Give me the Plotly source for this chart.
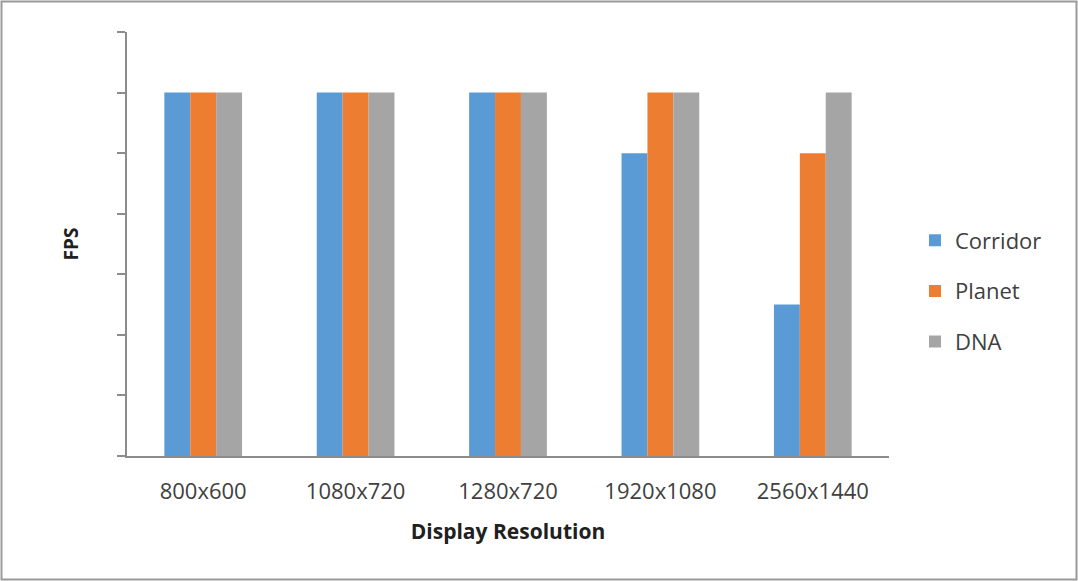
import plotly.graph_objects as go

resolutions = ["800x600", "1080x720", "1280x720", "1920x1080", "2560x1440"]
corridor = [60, 60, 60, 50, 25]
planet = [60, 60, 60, 60, 50]
dna = [60, 60, 60, 60, 60]

series = [
    ("Corridor", corridor, "#5B9BD5"),
    ("Planet", planet, "#ED7D31"),
    ("DNA", dna, "#A5A5A5"),
]

W, H = 1078, 581
ML, MR, MT, MB = 127, 189, 32, 125

fig = go.Figure()
for i, (name, vals, color) in enumerate(series):
    fig.add_trace(go.Bar(
        x=resolutions, y=vals, name=name,
        marker=dict(color=color, line=dict(width=0)),
        legendgroup=f"g{i}",
    ))

pw, ph = W - ML - MR, H - MT - MB
fig.add_shape(
    type="rect", xref="paper", yref="paper",
    x0=-(ML - 1.5) / pw, x1=1 + (MR - 1.5) / pw,
    y0=-(MB - 1.5) / ph, y1=1 + (MT - 1.5) / ph,
    line=dict(color="#9a9a9a", width=2), layer="below",
)

font = "Open Sans, DejaVu Sans, sans-serif"
fig.update_layout(
    width=W, height=H,
    margin=dict(l=ML, r=MR, t=MT, b=MB),
    paper_bgcolor="white", plot_bgcolor="white",
    barmode="group", bargap=0.49, bargroupgap=0,
    font=dict(family=font, size=21, color="#404040"),
    showlegend=True,
    legend=dict(
        x=(915 - ML) / pw, y=(456 - 291) / ph, xanchor="left", yanchor="middle",
        font=dict(size=22, color="#404040"),
        tracegroupgap=19, itemwidth=30,
    ),
    xaxis=dict(
        showline=True, linecolor="#8c8c8c", linewidth=1.5,
        ticks="", showgrid=False,
        tickfont=dict(size=22, color="#404040"),
        ticklabelstandoff=15,
        title=dict(text="<b>Display Resolution</b>", font=dict(size=21, color="#202020"), standoff=20),
    ),
    yaxis=dict(
        range=[0, 70], dtick=10, tick0=0,
        showline=True, linecolor="#8c8c8c", linewidth=1.5,
        ticks="outside", ticklen=8, tickcolor="#8c8c8c", tickwidth=1.5,
        showticklabels=False, showgrid=False, zeroline=False,
        title=dict(text="<b>FPS</b>", font=dict(size=19, color="#202020"), standoff=34),
    ),
)

fig.write_html("out.html")
